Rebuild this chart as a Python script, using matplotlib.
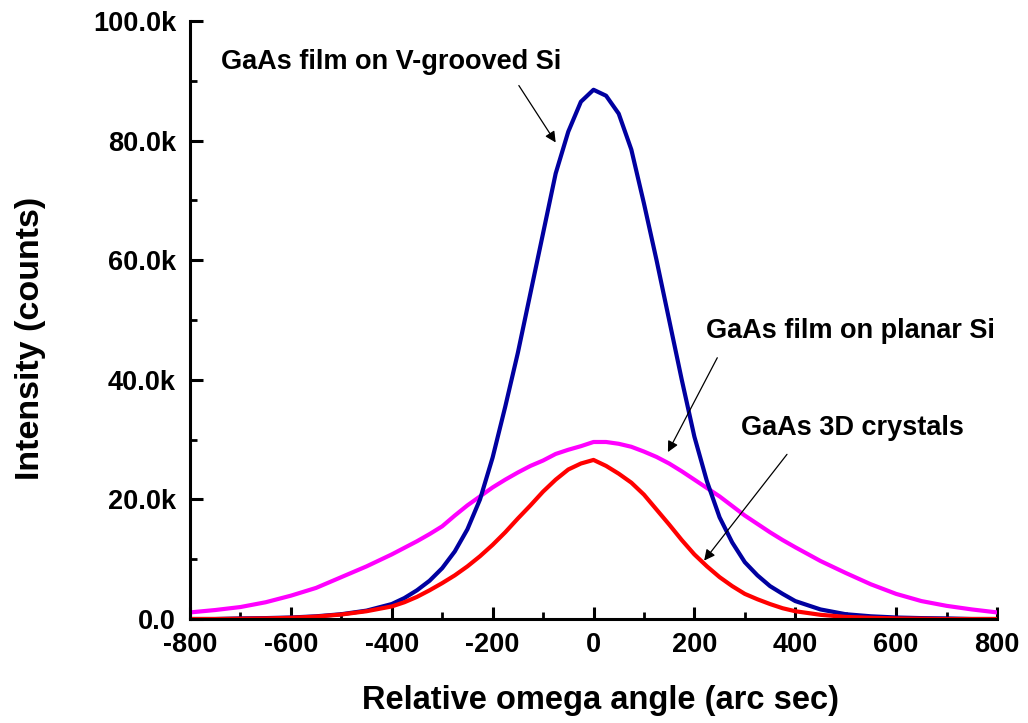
import matplotlib
matplotlib.use("Agg")
import matplotlib.pyplot as plt
from matplotlib.ticker import MultipleLocator, FuncFormatter

plt.rcParams['font.family'] = ['Liberation Sans', 'DejaVu Sans']
plt.rcParams['font.weight'] = 'bold'
plt.rcParams['axes.unicode_minus'] = False

angle = [-800, -750, -700, -650, -600, -550, -500, -450,
         -400, -375, -350, -325, -300, -275, -250, -225, -200, -175, -150, -125,
         -100, -75, -50, -25, 0, 25, 50, 75, 100, 125, 150, 175, 200, 225, 250,
         275, 300, 325, 350, 375, 400,
         450, 500, 550, 600, 650, 700, 750, 800]

v_grooved = [0.0, 0.0, 0.1, 0.15, 0.25, 0.45, 0.8, 1.4,
             2.5, 3.5, 4.8, 6.4, 8.5, 11.3, 15.0, 20.0, 27.0, 35.5, 44.5, 54.5,
             64.5, 74.5, 81.5, 86.5, 88.5, 87.5, 84.5, 78.5, 69.5, 60.0, 50.0, 40.0,
             30.5, 23.0, 17.0, 12.8, 9.5, 7.3, 5.5, 4.2, 3.0,
             1.6, 0.8, 0.45, 0.25, 0.15, 0.1, 0.0, 0.0]

planar = [1.1, 1.5, 2.0, 2.8, 3.9, 5.2, 7.0, 8.8,
          10.8, 11.9, 13.0, 14.2, 15.5, 17.3, 19.0, 20.5, 22.0, 23.3, 24.5, 25.6,
          26.5, 27.6, 28.3, 28.9, 29.6, 29.6, 29.3, 28.8, 28.0, 27.1, 26.0, 24.7,
          23.3, 21.9, 20.5, 18.9, 17.3, 15.9, 14.5, 13.2, 12.0,
          9.7, 7.7, 5.8, 4.2, 3.0, 2.2, 1.6, 1.1]

crystals = [0.0, 0.0, 0.05, 0.1, 0.2, 0.4, 0.75, 1.3,
            2.1, 2.8, 3.7, 4.8, 6.0, 7.3, 8.8, 10.5, 12.4, 14.5, 16.8, 19.0,
            21.3, 23.3, 25.0, 26.0, 26.6, 25.6, 24.3, 22.8, 20.8, 18.3, 15.8, 13.2,
            10.8, 8.8, 7.0, 5.5, 4.2, 3.3, 2.5, 1.8, 1.3,
            0.7, 0.35, 0.2, 0.1, 0.05, 0.0, 0.0, 0.0]

labels = ["GaAs film on V-grooved Si", "GaAs film on planar Si", "GaAs 3D crystals"]

fig = plt.figure(figsize=(10.28, 7.23), dpi=100)
ax = fig.add_axes([190/1028, 1-619/723, (997-190)/1028, (619-21)/723])

ax.plot(angle, [v*1000 for v in planar], color='#FF00FF', lw=3.0, solid_joinstyle='round')
ax.plot(angle, [v*1000 for v in v_grooved], color='#0000A0', lw=3.0, solid_joinstyle='round')
ax.plot(angle, [v*1000 for v in crystals], color='#FF0000', lw=3.0, solid_joinstyle='round')

ax.set_xlim(-800, 800)
ax.set_ylim(0, 100000)
ax.spines['top'].set_visible(False)
ax.spines['right'].set_visible(False)
for s in ['left', 'bottom']:
    ax.spines[s].set_linewidth(2.2)

ax.xaxis.set_major_locator(MultipleLocator(200))
ax.xaxis.set_minor_locator(MultipleLocator(100))
ax.yaxis.set_major_locator(MultipleLocator(20000))
ax.yaxis.set_minor_locator(MultipleLocator(10000))
ax.xaxis.set_major_formatter(FuncFormatter(lambda v, p: f"{int(round(v))}"))
ax.yaxis.set_major_formatter(FuncFormatter(lambda v, p: "0.0" if v == 0 else f"{v/1000:.1f}k"))

ax.tick_params(which='major', direction='in', length=9, width=2.2, labelsize=19.5)
ax.tick_params(which='minor', direction='in', length=5, width=2.0)
ax.tick_params(axis='x', which='major', pad=9)
ax.tick_params(axis='y', which='major', pad=10)

fig.text(601/1028, 1-700/723, "Relative omega angle (arc sec)", ha='center', va='center',
         fontsize=23.5, fontweight='bold')
fig.text(31/1028, 1-338/723, "Intensity (counts)", ha='center', va='center',
         rotation=90, fontsize=24.5, fontweight='bold')

arrow = dict(arrowstyle='-|>', color='black', lw=0.9, mutation_scale=16)
ax.text(-739, 93100, labels[0], ha='left', va='center', fontsize=19.5, fontweight='bold')
ax.annotate("", xy=(-72, 79300), xytext=(-151, 89600), arrowprops=arrow)
ax.text(224, 48200, labels[1], ha='left', va='center', fontsize=19.5, fontweight='bold')
ax.annotate("", xy=(145, 27500), xytext=(248, 44100), arrowprops=arrow)
ax.text(293, 31900, labels[2], ha='left', va='center', fontsize=19.5, fontweight='bold')
ax.annotate("", xy=(216, 9400), xytext=(387, 27900), arrowprops=arrow)

fig.savefig("out.png", dpi=100)
